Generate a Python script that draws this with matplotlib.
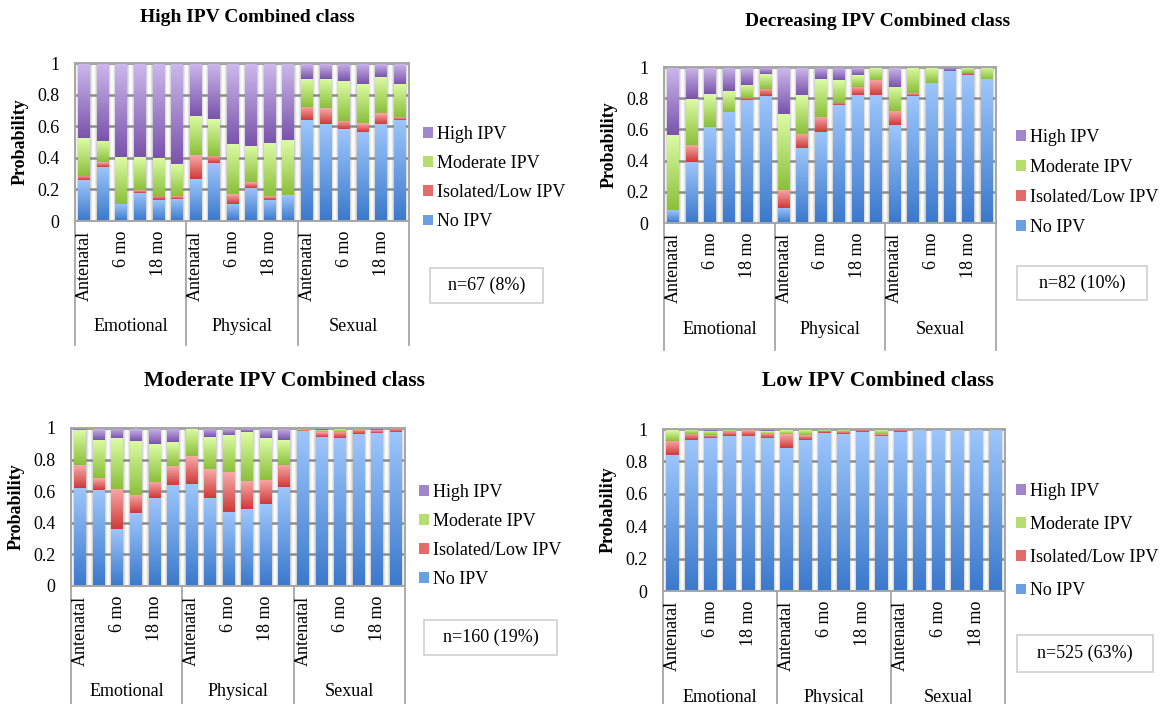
"""
Four stacked-bar panels: probability of IPV category by time point,
one panel per combined IPV latent class.
"""
import numpy as np
import matplotlib
matplotlib.use("Agg")
import matplotlib.pyplot as plt
from matplotlib.colors import LinearSegmentedColormap
from matplotlib.patches import Patch, Rectangle

plt.rcParams["font.family"] = ["Liberation Serif", "DejaVu Serif"]
plt.rcParams["font.size"] = 13

W, H = 1170, 704

# ---- data -------------------------------------------------------------
ipv_types = ["Emotional", "Physical", "Sexual"]
time_labels = ["Antenatal", "", "6 mo", "", "18 mo", ""]
series_names = ["No IPV", "Isolated/Low IPV", "Moderate IPV", "High IPV"]

high_no = [0.258, 0.343, 0.110, 0.178, 0.131, 0.140,
           0.265, 0.367, 0.108, 0.210, 0.133, 0.163,
           0.638, 0.617, 0.580, 0.566, 0.617, 0.642]
high_iso = [0.026, 0.028, 0.000, 0.017, 0.026, 0.017,
            0.150, 0.046, 0.061, 0.034, 0.024, 0.000,
            0.084, 0.097, 0.053, 0.053, 0.067, 0.015]
high_mod = [0.239, 0.135, 0.293, 0.208, 0.241, 0.201,
            0.248, 0.231, 0.320, 0.233, 0.337, 0.348,
            0.178, 0.186, 0.250, 0.248, 0.229, 0.212]
high_high = [0.477, 0.494, 0.597, 0.597, 0.602, 0.642,
             0.337, 0.356, 0.511, 0.523, 0.506, 0.489,
             0.100, 0.100, 0.117, 0.133, 0.087, 0.131]

decr_no = [0.081, 0.391, 0.618, 0.714, 0.786, 0.814,
           0.098, 0.483, 0.585, 0.754, 0.821, 0.818,
           0.628, 0.814, 0.900, 0.972, 0.947, 0.923]
decr_iso = [0.000, 0.109, 0.000, 0.000, 0.015, 0.047,
            0.116, 0.090, 0.097, 0.017, 0.053, 0.099,
            0.092, 0.017, 0.000, 0.000, 0.015, 0.000]
decr_mod = [0.481, 0.293, 0.209, 0.130, 0.084, 0.096,
            0.485, 0.250, 0.239, 0.144, 0.075, 0.083,
            0.154, 0.169, 0.100, 0.000, 0.034, 0.077]
decr_high = [0.438, 0.207, 0.173, 0.156, 0.115, 0.043,
             0.301, 0.177, 0.079, 0.085, 0.051, 0.000,
             0.126, 0.000, 0.000, 0.028, 0.004, 0.000]

mod_no = [0.621, 0.610, 0.360, 0.462, 0.555, 0.642,
          0.648, 0.559, 0.470, 0.487, 0.517, 0.627,
          0.979, 0.943, 0.934, 0.960, 0.968, 0.977]
mod_iso = [0.142, 0.074, 0.254, 0.114, 0.106, 0.119,
           0.176, 0.183, 0.250, 0.180, 0.157, 0.140,
           0.006, 0.029, 0.038, 0.027, 0.017, 0.019]
mod_mod = [0.226, 0.242, 0.322, 0.343, 0.237, 0.148,
           0.176, 0.199, 0.238, 0.308, 0.265, 0.155,
           0.011, 0.013, 0.020, 0.009, 0.000, 0.000]
mod_high = [0.011, 0.074, 0.064, 0.081, 0.102, 0.091,
            0.000, 0.059, 0.042, 0.025, 0.061, 0.078,
            0.004, 0.015, 0.008, 0.004, 0.015, 0.004]

low_no = [0.841, 0.930, 0.946, 0.957, 0.957, 0.944,
          0.885, 0.934, 0.973, 0.969, 0.979, 0.955,
          0.983, 0.996, 0.998, 0.998, 0.996, 0.992]
low_iso = [0.087, 0.041, 0.017, 0.027, 0.035, 0.025,
           0.084, 0.029, 0.015, 0.015, 0.017, 0.012,
           0.013, 0.002, 0.000, 0.000, 0.002, 0.000]
low_mod = [0.066, 0.025, 0.027, 0.014, 0.008, 0.017,
           0.023, 0.031, 0.004, 0.014, 0.002, 0.027,
           0.002, 0.000, 0.002, 0.002, 0.000, 0.006]
low_high = [0.006, 0.004, 0.010, 0.002, 0.000, 0.014,
            0.008, 0.006, 0.008, 0.002, 0.002, 0.006,
            0.002, 0.002, 0.000, 0.000, 0.002, 0.002]

# (light top, dark bottom) gradient per series
shades = [("#9dc6fb", "#3b79cc"),
          ("#f8aaa9", "#cf3a3a"),
          ("#dcfca4", "#8cbf3b"),
          ("#cdb9ec", "#7a54ac")]
mids = ["#6a9fe4", "#e46b6a", "#b5de6e", "#a286cc"]

# ---- layout (pixels) ----------------------------------------------------
panels = [
    dict(title="High IPV Combined class", values=[high_no, high_iso, high_mod, high_high],
         n="n=67 (8%)", ax=(75, 409, 63, 221), title_xy=(247, 18), title_size=14,
         cat_line=345, cat_y=327, leg=(423, 178, 0.68), nbox=(430, 268, 113, 35)),
    dict(title="Decreasing IPV Combined class", values=[decr_no, decr_iso, decr_mod, decr_high],
         n="n=82 (10%)", ax=(664, 996, 67, 223), title_xy=(878, 22), title_size=14,
         cat_line=350, cat_y=330, leg=(1016, 182, 0.72), nbox=(1017, 266, 130, 34)),
    dict(title="Moderate IPV Combined class", values=[mod_no, mod_iso, mod_mod, mod_high],
         n="n=160 (19%)", ax=(71, 405, 428, 586), title_xy=(284, 381), title_size=15.5,
         cat_line=704, cat_y=691, leg=(419, 536, 0.67), nbox=(424, 620, 133, 35)),
    dict(title="Low IPV Combined class", values=[low_no, low_iso, low_mod, low_high],
         n="n=525 (63%)", ax=(663, 1005, 429, 591), title_xy=(878, 381), title_size=15.5,
         cat_line=704, cat_y=697, leg=(1016, 541, 0.9), nbox=(1017, 635, 136, 37)),
]

BAR_W = 0.64
GRID = "#8c8c8c"
FRAME = "#a6a6a6"


def gap_background(ax, n):
    xs = np.linspace(-0.5, n - 0.5, 3000)
    u = (xs + 0.5) % 1.0
    d = np.minimum(u, 1 - u)
    t = np.clip(d / ((1 - BAR_W) / 2), 0, 1)
    g = 1.0 - 0.22 * t ** 1.6
    ax.imshow(np.tile(g, (2, 1)), extent=[-0.5, n - 0.5, 0, 1], cmap="gray",
              vmin=0, vmax=1, aspect="auto", zorder=0, interpolation="bilinear")


def shade_bars(ax, bars, top, bottom):
    cmap = LinearSegmentedColormap.from_list("seg", [bottom, top])
    grad = np.linspace(0, 1, 64).reshape(-1, 1)
    for p in bars:
        h = p.get_height()
        if h <= 0:
            continue
        x0, y0 = p.get_x(), p.get_y()
        ax.imshow(grad, extent=[x0, x0 + p.get_width(), y0, y0 + h], origin="lower",
                  cmap=cmap, aspect="auto", zorder=3, interpolation="bilinear")


fig = plt.figure(figsize=(W / 100, H / 100), dpi=100)

for pnl in panels:
    left, right, top, bottom = pnl["ax"]
    ax = fig.add_axes([left / W, 1 - bottom / H, (right - left) / W, (bottom - top) / H])
    ah = bottom - top
    aw = right - left
    n = len(pnl["values"][0])
    x = np.arange(n)

    gap_background(ax, n)
    base = np.zeros(n)
    for vals, (lt, dk), mid in zip(pnl["values"], shades, mids):
        bars = ax.bar(x, vals, BAR_W, bottom=base, color=mid, linewidth=0, zorder=2)
        shade_bars(ax, bars, lt, dk)
        base = base + np.array(vals)

    ax.set_xlim(-0.5, n - 0.5)
    ax.set_ylim(0, 1)
    ax.set_yticks([0, 0.2, 0.4, 0.6, 0.8, 1.0])
    ax.set_yticklabels(["0", "0.2", "0.4", "0.6", "0.8", "1"])
    ax.set_xticks(x)
    ax.set_xticklabels(time_labels * len(ipv_types), rotation=90)
    ax.tick_params(axis="y", length=0, pad=11)
    ax.tick_params(axis="x", length=0, pad=7)
    ax.yaxis.grid(True, color=GRID, linewidth=1.8, zorder=1)
    ax.set_axisbelow(False)
    for line in ax.get_ygridlines():
        line.set_zorder(1)
    for s in ax.spines.values():
        s.set_color(FRAME)
        s.set_linewidth(1.4)
        s.set_zorder(4)

    ax.set_ylabel("Probability", fontweight="bold")
    ax.yaxis.set_label_coords(-46 / aw, 0.5)

    # multi-level category axis
    depth = (pnl["cat_line"] - bottom) / ah
    for xb in np.arange(-0.5, n, 6):
        ax.plot([xb, xb], [0, -depth], transform=ax.get_xaxis_transform(),
                clip_on=False, color=FRAME, linewidth=1.3)
    for i, name in enumerate(ipv_types):
        ax.text(i * 6 + 2.5, -(pnl["cat_y"] - bottom) / ah, name,
                transform=ax.get_xaxis_transform(), ha="center", va="center")

    fig.text(pnl["title_xy"][0] / W, 1 - pnl["title_xy"][1] / H, pnl["title"],
             ha="center", va="center", fontweight="bold", fontsize=pnl["title_size"])

    lx, ly, spacing = pnl["leg"]
    handles = [Patch(facecolor=c, edgecolor="none") for c in mids][::-1]
    fig.legend(handles, series_names[::-1], loc="center left",
               bbox_to_anchor=(lx / W, 1 - ly / H), frameon=False,
               handlelength=0.55, handleheight=0.55, handletextpad=0.25,
               labelspacing=spacing, borderpad=0, borderaxespad=0)

    bx, by, bw, bh = pnl["nbox"]
    fig.add_artist(Rectangle((bx / W, 1 - (by + bh) / H), bw / W, bh / H,
                             transform=fig.transFigure, fill=False,
                             edgecolor="#d0d0d0", linewidth=1.2))
    fig.text((bx + bw / 2) / W, 1 - (by + bh / 2) / H, pnl["n"],
             ha="center", va="center")

fig.savefig("out.png", dpi=100)
